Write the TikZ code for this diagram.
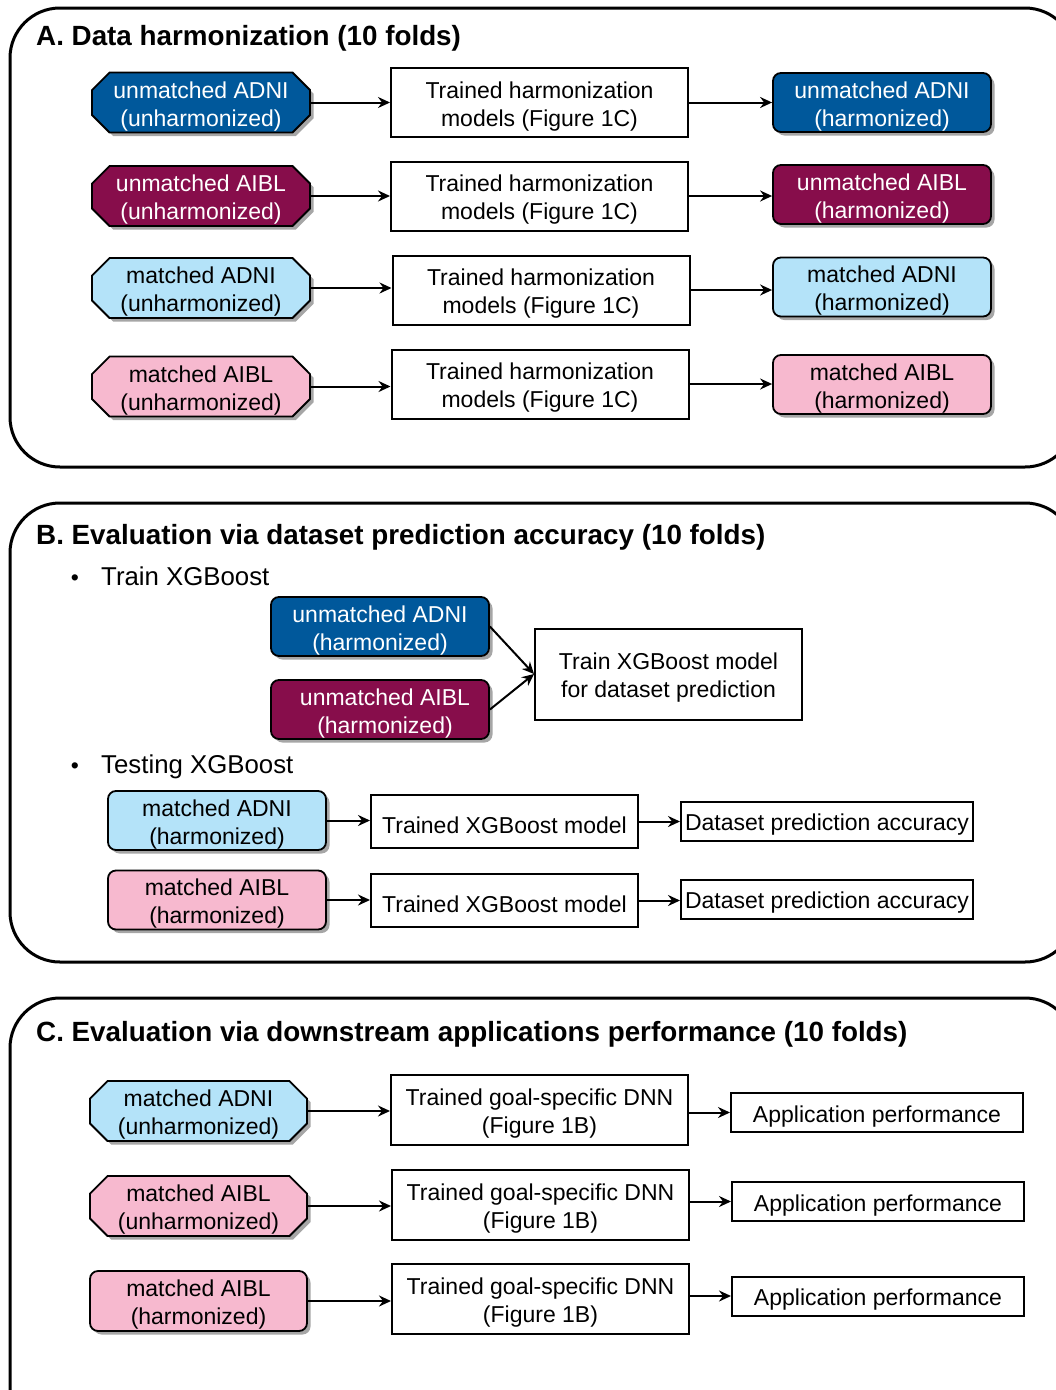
\documentclass[tikz,border=0pt]{standalone}
\usepackage{fontspec}
\setmainfont{Liberation Sans}
\usetikzlibrary{shapes.misc,shadows,arrows.meta}
\definecolor{dblue}{RGB}{0,88,155}
\definecolor{dmag}{RGB}{135,13,75}
\definecolor{lblue}{RGB}{180,227,249}
\definecolor{lpink}{RGB}{247,185,207}
\newcommand\ztop{\rule{0pt}{24pt}}
\newcommand\otop{\rule{0pt}{19pt}}
\newcommand\zdep[1]{\raisebox{0pt}[\height][0pt]{#1}}
\begin{document}
\begin{tikzpicture}[x=1pt,y=-1pt,
  every node/.style={font=\fontsize{23}{28}\selectfont, inner sep=0pt, align=center},
  panel/.style={draw, line width=3pt, rounded corners=50pt},
  ptitle/.style={anchor=base west, font=\fontsize{27.8}{32}\selectfont\bfseries},
  btext/.style={anchor=base west, font=\fontsize{25.8}{30}\selectfont},
  shad/.style={drop shadow={shadow xshift=3.5pt, shadow yshift=-3.5pt, opacity=0.35, fill=black}},
  octbox/.style={chamfered rectangle, chamfered rectangle xsep=14pt, draw, line width=1.8pt,
     minimum width=218pt, minimum height=60pt, shad},
  rbox/.style={rectangle, rounded corners=8pt, draw, line width=1.8pt,
     minimum width=218pt, minimum height=59pt, shad},
  pbox/.style={rectangle, draw, line width=2pt, fill=white},
  dkb/.style={fill=dblue, text=white},
  dkm/.style={fill=dmag, text=white},
  ltb/.style={fill=lblue},
  ltp/.style={fill=lpink},
  arr/.style={draw, line width=2pt, -{Stealth[length=12pt,width=11pt,inset=4pt]}}
]
\useasboundingbox (0,0) rectangle (1056,1390);
\clip (0,0) rectangle (1056,1390);

% panels
\draw[panel] (10,8) rectangle (1075,467);
\draw[panel] (10,503) rectangle (1075,962);
\draw[panel] (10,998) rectangle (1075,1440);

% ---------- Panel A ----------
\node[ptitle] (tA) at (36,45) {A. Data harmonization (10 folds)};

\node[octbox,dkb] (L1) at (201,102.5) {\otop unmatched ADNI\\\zdep{(unharmonized)}};
\node[pbox,minimum width=297pt,minimum height=69pt] (M1) at (539.5,102.5) {\ztop Trained harmonization\\models (Figure 1C)};
\node[rbox,dkb] (R1) at (882,102.5) {\ztop unmatched ADNI\\(harmonized)};

\node[octbox,dkm] (L2) at (201,196) {\otop unmatched AIBL\\\zdep{(unharmonized)}};
\node[pbox,minimum width=297pt,minimum height=69pt] (M2) at (539.5,196) {\ztop Trained harmonization\\models (Figure 1C)};
\node[rbox,dkm] (R2) at (882,194.5) {\ztop unmatched AIBL\\(harmonized)};

\node[octbox,ltb] (L3) at (201,288) {\otop matched ADNI\\\zdep{(unharmonized)}};
\node[pbox,minimum width=297pt,minimum height=69pt] (M3) at (541,290) {\ztop Trained harmonization\\models (Figure 1C)};
\node[rbox,ltb] (R3) at (882,287) {\ztop matched ADNI\\(harmonized)};

\node[octbox,ltp] (L4) at (201,386.5) {\otop matched AIBL\\\zdep{(unharmonized)}};
\node[pbox,minimum width=297pt,minimum height=69pt] (M4) at (540,384) {\ztop Trained harmonization\\models (Figure 1C)};
\node[rbox,ltp] (R4) at (882,384.5) {\ztop matched AIBL\\(harmonized)};

\foreach \i in {1,2,3,4}{
  \draw[arr] (L\i.east) -- (L\i.east -| M\i.west);
  \draw[arr] (M\i.east) -- (M\i.east -| R\i.west);
}

% ---------- Panel B ----------
\node[ptitle] (tB) at (36,544) {B. Evaluation via dataset prediction accuracy (10 folds)};
\node[anchor=base] (bu1) at (75,585) {•};
\node[btext] (tr) at (101,585) {Train XGBoost};

\node[rbox,dkb] (BU1) at (380,626.5) {\ztop unmatched ADNI\\(harmonized)};
\node[rbox,dkm] (BU2) at (380,709.5) {\ztop\hspace{10pt}unmatched AIBL\\\hspace{10pt}(harmonized)};
\node[pbox,minimum width=267pt,minimum height=91pt] (BT) at (668.5,674) {\ztop Train XGBoost model\\for dataset prediction};
\draw[arr] (BU1.east) -- (BT.west);
\draw[arr] (BU2.east) -- (BT.west);

\node[anchor=base] (bu2) at (75,773) {•};
\node[btext] (te) at (101,773) {Testing XGBoost};

\node[rbox,ltb] (BM1) at (217,820.5) {\ztop matched ADNI\\(harmonized)};
\node[pbox,minimum width=267pt,minimum height=53pt] (BX1) at (504.5,821.5) {\ztop Trained XGBoost model};
\node[pbox,minimum width=292pt,minimum height=39pt] (BD1) at (827,821) {\ztop Dataset prediction accuracy};

\node[rbox,ltp] (BM2) at (217,900) {\ztop matched AIBL\\(harmonized)};
\node[pbox,minimum width=267pt,minimum height=53pt] (BX2) at (504.5,900.5) {\ztop Trained XGBoost model};
\node[pbox,minimum width=292pt,minimum height=39pt] (BD2) at (827,899) {\ztop Dataset prediction accuracy};

\foreach \i in {1,2}{
  \draw[arr] (BM\i.east) -- (BM\i.east -| BX\i.west);
  \draw[arr] (BX\i.east) -- (BX\i.east -| BD\i.west);
}

% ---------- Panel C ----------
\node[ptitle] (tC) at (36,1041) {C. Evaluation via downstream applications performance (10 folds)};

\node[octbox,ltb,minimum width=217pt] (CL1) at (198.5,1111) {\otop matched ADNI\\\zdep{(unharmonized)}};
\node[pbox,minimum width=297pt,minimum height=70pt] (CM1) at (539.5,1110) {\ztop Trained goal-specific DNN\\(Figure 1B)};
\node[pbox,minimum width=292pt,minimum height=39pt] (CA1) at (877,1112.5) {\ztop Application performance};

\node[octbox,ltp,minimum width=217pt] (CL2) at (198.5,1206) {\otop matched AIBL\\\zdep{(unharmonized)}};
\node[pbox,minimum width=297pt,minimum height=70pt] (CM2) at (540.5,1204.5) {\ztop Trained goal-specific DNN\\(Figure 1B)};
\node[pbox,minimum width=292pt,minimum height=39pt] (CA2) at (878,1201.5) {\ztop Application performance};

\node[rbox,ltp,minimum width=217pt,minimum height=60pt] (CL3) at (198.5,1301) {\ztop matched AIBL\\(harmonized)};
\node[pbox,minimum width=297pt,minimum height=70pt] (CM3) at (540.5,1298.5) {\ztop Trained goal-specific DNN\\(Figure 1B)};
\node[pbox,minimum width=292pt,minimum height=39pt] (CA3) at (878,1296) {\ztop Application performance};

\foreach \i in {1,2,3}{
  \draw[arr] (CL\i.east) -- (CL\i.east -| CM\i.west);
  \draw[arr] (CA\i.west -| CM\i.east) -- (CA\i.west);
}
\end{tikzpicture}
\end{document}
